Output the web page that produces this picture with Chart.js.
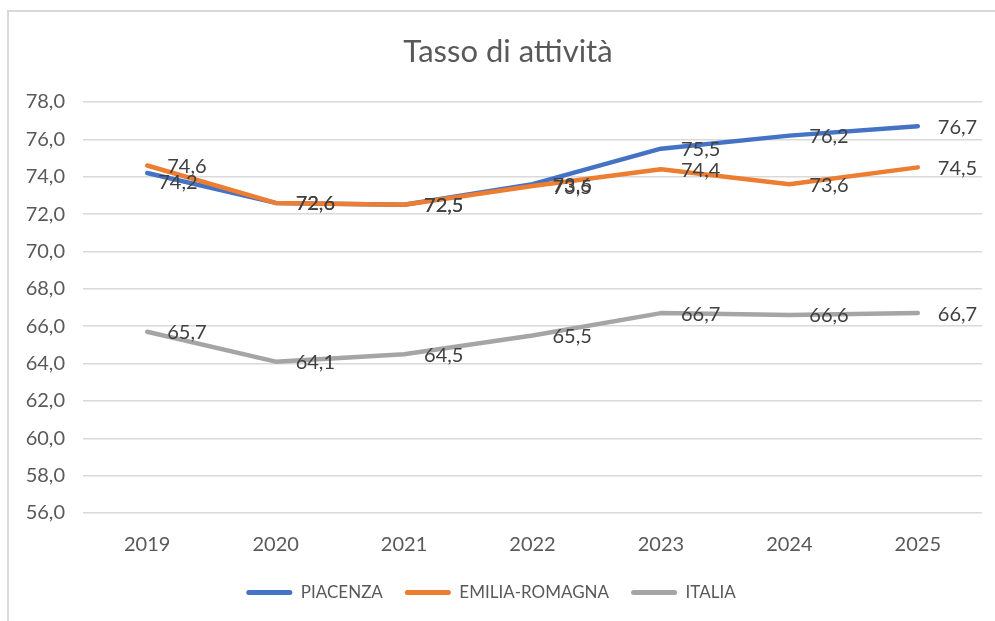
<!doctype html>
<html lang="it">
  <head>
    <meta charset="utf-8">
    <title>Tasso di attività</title>
    <style>
      * {
        margin: 0;
        padding: 0;
      }
      body {
        width: 995px;
        height: 621px;
        overflow: hidden;
        background: #fff;
        position: relative;
      }
      .frame {
        position: absolute;
        left: 7px;
        top: 10px;
        width: 1100px;
        height: 800px;
        border: 2px solid #d9d9d9;
      }
      #myChart {
        position: absolute;
        left: 0;
        top: 0;
      }
    </style>
  </head>

  <body>
    <div class="frame"></div>
    <canvas id="myChart" width="995" height="621"></canvas>

    <script src="https://cdn.jsdelivr.net/npm/chart.js"></script>
    <script>
    // setup
    const years = ['2019', '2020', '2021', '2022', '2023', '2024', '2025'];
    const piacenza = [74.2, 72.6, 72.5, 73.6, 75.5, 76.2, 76.7];
    const emiliaRomagna = [74.6, 72.6, 72.5, 73.5, 74.4, 73.6, 74.5];
    const italia = [65.7, 64.1, 64.5, 65.5, 66.7, 66.6, 66.7];

    const yMin = 56;
    const yMax = 78;
    const yStep = 2;

    const chartTitle = 'Tasso di attività';
    const fontFamily = 'Lato, "Open Sans", sans-serif';
    const textColor = '#595959';

    const fmt = v => v.toFixed(1).replace('.', ',');

    // order: later series are painted on top, as in the original
    function line(label, values, color, order) {
      return {
        label: label,
        data: values,
        borderColor: color,
        backgroundColor: color,
        borderWidth: 4.5,
        borderCapStyle: 'round',
        borderJoinStyle: 'round',
        pointRadius: 0,
        pointHoverRadius: 0,
        tension: 0,
        order: order
      };
    }

    const data = {
      labels: years,
      datasets: [
        line('PIACENZA', piacenza, '#4472C4', 3),
        line('EMILIA-ROMAGNA', emiliaRomagna, '#ED7D31', 2),
        line('ITALIA', italia, '#A5A5A5', 1)
      ]
    };

    // title centred on the whole frame, not on the plot
    const frameTitle = {
      id: 'frameTitle',
      afterDraw(chart) {
        const { ctx } = chart;
        ctx.save();
        ctx.font = '31px ' + fontFamily;
        ctx.fillStyle = textColor;
        ctx.textAlign = 'center';
        ctx.textBaseline = 'middle';
        ctx.fillText(chartTitle, 508, 52);
        ctx.restore();
      }
    };

    // value labels to the right of each point, like Excel's "right" position
    const valueLabels = {
      id: 'valueLabels',
      afterDatasetsDraw(chart) {
        const { ctx } = chart;
        ctx.save();
        ctx.font = '20px ' + fontFamily;
        ctx.fillStyle = '#404040';
        ctx.textAlign = 'left';
        ctx.textBaseline = 'middle';
        chart.data.datasets.forEach((ds, i) => {
          chart.getDatasetMeta(i).data.forEach((pt, j) => {
            let dx = 20, dy = 1;
            if (i === 0 && j === 0) { dx = 11; dy = 10; } // label moved by hand in the original
            ctx.fillText(fmt(ds.data[j]), pt.x + dx, pt.y + dy);
          });
        });
        ctx.restore();
      }
    };

    // config
    const config = {
      type: 'line',
      data,
      options: {
        responsive: false,
        animation: false,
        layout: {
          padding: { left: 0, right: 13, top: 102, bottom: 10 }
        },
        plugins: {
          title: { display: false },
          legend: {
            position: 'bottom',
            labels: {
              color: textColor,
              font: { family: fontFamily, size: 17 },
              boxWidth: 46,
              boxHeight: 5,
              padding: 22,
              useBorderRadius: true,
              borderRadius: 2.5,
              generateLabels(chart) {
                return chart.data.datasets.map((ds, i) => ({
                  text: ds.label,
                  fillStyle: ds.borderColor,
                  strokeStyle: ds.borderColor,
                  fontColor: textColor,
                  lineWidth: 0,
                  borderRadius: 2.5,
                  datasetIndex: i
                }));
              }
            }
          },
          tooltip: { enabled: false }
        },
        scales: {
          x: {
            offset: true,
            grid: { display: false },
            border: { display: false },
            ticks: {
              color: textColor,
              font: { family: fontFamily, size: 20 },
              padding: 12,
              maxRotation: 0
            },
            afterFit(scale) { scale.height = 49; }
          },
          y: {
            min: yMin,
            max: yMax,
            grid: { color: '#d9d9d9', lineWidth: 1.5, drawTicks: false },
            border: { display: false },
            ticks: {
              stepSize: yStep,
              color: textColor,
              font: { family: fontFamily, size: 20 },
              padding: 18,
              callback: value => fmt(value)
            },
            afterFit(scale) { scale.width = 83; }
          }
        }
      },
      plugins: [valueLabels, frameTitle]
    };

    // render init block
    const myChart = new Chart(
      document.getElementById('myChart'),
      config
    );
    </script>
  </body>
</html>
